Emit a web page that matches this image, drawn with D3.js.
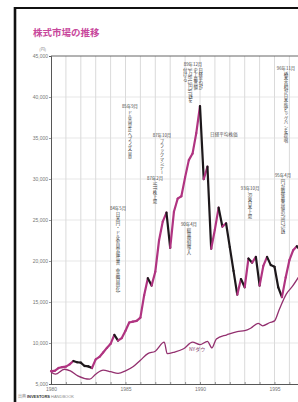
<!DOCTYPE html>
<html><head><meta charset="utf-8">
<script src="https://cdn.jsdelivr.net/npm/d3@7"></script>
<style>
body{margin:0;background:#fff}
svg{display:block;font-family:"Noto Sans CJK JP","Noto Sans",sans-serif}
</style></head><body>
<svg id="chart" width="298" height="402"></svg>
<script>
// 日経平均 quarterly closes, starting Jan 1980
const nikkeiStart = 1980;
const nikkei = [
  6560, 6600, 6950, 7060,
  7120, 7400, 7800, 7650,
  7600, 7200, 7150, 6950,
  8000, 8300, 8850, 9400,
  9900, 11000, 10300, 10600,
  11500, 12500, 12600, 12700,
  13100, 15800, 17900, 17000,
  18700, 22500, 24800, 25900,
  21600, 26000, 27600, 27900,
  30200, 32300, 33100, 35600,
  38900, 29980, 31500, 21500,
  23850, 26500, 24200, 24600,
  21700, 18800, 15900, 17800,
  16800, 20300, 19800, 20500,
  17000, 19400, 20500, 19500,
  19300, 16800, 15600, 18000,
  20100, 21300, 21800, 21300
];
// NYダウ (as drawn on the chart's scale)
const dowYears = [1980.0, 1980.3, 1980.9, 1981.3, 1981.8, 1982.6, 1983.0, 1983.5, 1984.0, 1984.5,
  1985.0, 1985.5, 1986.0, 1986.5, 1987.0, 1987.6, 1987.8, 1988.3, 1988.9, 1989.5,
  1990.0, 1990.5, 1990.8, 1991.1, 1991.8, 1992.5, 1993.0, 1993.4, 1993.9, 1994.2,
  1994.7, 1995.0, 1995.3, 1995.8, 1996.2, 1996.6];
const dowValues = [6450, 6200, 6800, 6600, 6000, 5600, 6200, 6700, 6500, 6300,
  6600, 7100, 7900, 8700, 9000, 10100, 8700, 8900, 9300, 10100,
  9800, 10200, 9400, 10500, 11000, 11400, 11500, 11800, 12400, 12100,
  12500, 12700, 14000, 16000, 16900, 18000];

const yTicks = [5000, 10000, 15000, 20000, 25000, 30000, 35000, 40000, 45000];
const xYears = d3.range(1980, 1999);
const xLabels = [1980, 1985, 1990, 1995];

// events: date label, text columns (right to left), anchor in chart units
const notes = [
  { date: '84年5月', cols: ['日米円・ドル委員会報告書（金融自由化）'], yr: 1984.5, v: 26200 },
  { date: '85年9月', cols: ['ドル高是正へプラザ合意'], yr: 1985.3, v: 38700 },
  { date: '87年10月', cols: ['ブラックマンデー'], yr: 1987.45, v: 35100 },
  { date: '87年2月', cols: ['NTT株上場'], yr: 1986.98, v: 29900 },
  { date: '89年12月', cols: ['日経平均が', '史上最高値', '3万8915円87銭を', '付ける'], yr: 1989.53, v: 43800 },
  { date: '90年4月', cols: ['総量規制導入'], yr: 1989.26, v: 24300 },
  { date: '93年10月', cols: ['JR東日本上場'], yr: 1993.36, v: 28700 },
  { date: '95年4月', cols: ['円が戦後最高値の79円75銭'], yr: 1995.57, v: 30200 },
  { date: '96年11月', cols: ['橋本首相が日本版ビッグバンを提唱'], yr: 1995.77, v: 43300 }
];

const svg = d3.select('#chart');
const W = 298, H = 402;
const x = d3.scaleLinear().domain([1980, 1998]).range([51, 51 + 14.9 * 18]);
const y = d3.scaleLinear().domain([5000, 45000]).range([384, 56]);

svg.append('rect').attr('width', W).attr('height', H).attr('fill', '#fff');

// frame
svg.append('line').attr('x1', 14).attr('x2', W).attr('y1', 8).attr('y2', 8)
  .attr('stroke', '#111').attr('stroke-width', 2);
svg.append('line').attr('x1', 15).attr('x2', 15).attr('y1', 7).attr('y2', H)
  .attr('stroke', '#111').attr('stroke-width', 2.6);

svg.append('text').attr('x', 33).attr('y', 36)
  .attr('font-size', 9.5).attr('font-weight', 700).attr('fill', '#c8489c')
  .text('株式市場の推移');

// grid
svg.append('g').selectAll('line').data(xYears.slice(1)).join('line')
  .attr('x1', d => x(d)).attr('x2', d => x(d)).attr('y1', y(45000)).attr('y2', y(5000))
  .attr('stroke', '#d0d0d0').attr('stroke-width', 0.8);
svg.append('g').selectAll('line').data(yTicks.slice(1, -1)).join('line')
  .attr('x1', x(1980)).attr('x2', W).attr('y1', d => y(d)).attr('y2', d => y(d))
  .attr('stroke', '#dcdcdc').attr('stroke-width', 0.7);
svg.append('line').attr('x1', x(1980)).attr('x2', W).attr('y1', y(45000)).attr('y2', y(45000))
  .attr('stroke', '#555').attr('stroke-width', 0.9);

// axes
const yAxis = svg.append('g').attr('transform', `translate(${x(1980)},0)`)
  .call(d3.axisLeft(y).tickValues(yTicks).tickFormat(d3.format(',')).tickSize(2).tickPadding(1));
const xAxis = svg.append('g').attr('transform', `translate(0,${y(5000)})`)
  .call(d3.axisBottom(x).tickValues(xYears).tickSize(-2).tickPadding(3)
    .tickFormat(d => xLabels.includes(d) ? d : ''));
[yAxis, xAxis].forEach(g => {
  g.select('.domain').attr('stroke', '#444').attr('stroke-width', 0.9);
  g.selectAll('.tick line').attr('stroke', '#555').attr('stroke-width', 0.6);
  g.selectAll('text').attr('fill', '#777').attr('font-size', 5).attr('font-family', 'Liberation Sans, sans-serif');
});
svg.append('text').attr('x', 46).attr('y', 51).attr('text-anchor', 'end')
  .attr('font-size', 4).attr('fill', '#777').text('(円)');

// NYダウ
const dow = dowYears.map((d, i) => [d, dowValues[i]]);
svg.append('path').datum(dow)
  .attr('d', d3.line().x(d => x(d[0])).y(d => y(d[1])).curve(d3.curveMonotoneX))
  .attr('fill', 'none').attr('stroke', '#93306f').attr('stroke-width', 1.3);
svg.append('text').attr('x', x(1989.8)).attr('y', y(9000))
  .attr('text-anchor', 'middle').attr('font-size', 5).attr('fill', '#8a4a76').text('NYダウ');

// 日経平均: rising quarters magenta, falling quarters black
const nk = nikkei.map((v, i) => ({ t: nikkeiStart + i / 4, v, p: i ? nikkei[i - 1] : v }));
svg.append('g').attr('stroke-linecap', 'round').selectAll('line').data(nk.slice(1)).join('line')
  .attr('x1', d => x(d.t - 0.25)).attr('x2', d => x(d.t))
  .attr('y1', d => y(d.p)).attr('y2', d => y(d.v))
  .attr('stroke', d => d.v >= d.p ? '#b03481' : '#1d181b')
  .attr('stroke-width', 2.2);

svg.append('text').attr('x', x(1991.6)).attr('y', y(35200))
  .attr('text-anchor', 'middle').attr('font-size', 4.6).attr('fill', '#555').text('日経平均株価');

// events
const fs = 4.4;
const ng = svg.append('g').attr('fill', '#444').attr('font-size', fs);
notes.forEach(n => {
  const cx = x(n.yr), cy = y(n.v);
  ng.append('text').attr('x', cx).attr('y', cy).attr('text-anchor', 'middle').text(n.date);
  const k = n.cols.length;
  n.cols.forEach((c, j) => {
    const colX = cx + ((k - 1) / 2 - j) * (fs + 0.8);
    ng.append('text').attr('x', colX).attr('y', cy + 2)
      .style('writing-mode', 'vertical-rl').style('text-orientation', 'mixed')
      .text(c);
  });
});

// source
svg.append('text').attr('x', 18).attr('y', 398).attr('font-size', 4).attr('fill', '#888')
  .call(t => {
    t.append('tspan').text('出典 ');
    t.append('tspan').attr('font-weight', 700).attr('fill', '#333').attr('font-family', 'Liberation Sans').text('INVESTORS');
    t.append('tspan').attr('font-family', 'Liberation Sans').text(' HANDBOOK');
  });
</script>
</body></html>
